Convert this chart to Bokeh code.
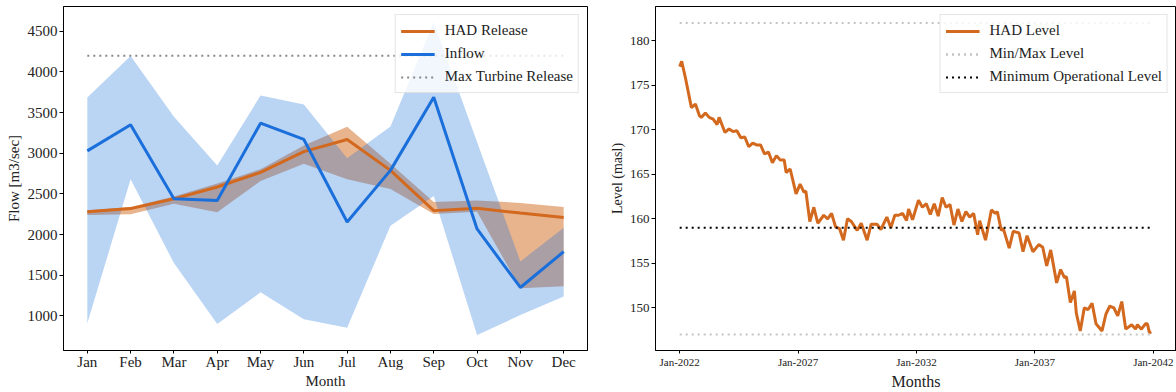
import pandas as pd
from datetime import datetime
from bokeh.plotting import figure
from bokeh.layouts import row
from bokeh.models import Range1d, FixedTicker, DatetimeTickFormatter
from bokeh.embed import file_html
from bokeh.resources import INLINE

FONT = "Liberation Serif"

# ---- monthly flow statistics ----
months = ["Jan", "Feb", "Mar", "Apr", "May", "Jun",
          "Jul", "Aug", "Sep", "Oct", "Nov", "Dec"]
had_release = [2280, 2320, 2440, 2585, 2765, 3020, 3170, 2790, 2295, 2325, 2265, 2210]
had_release_low = [2240, 2250, 2380, 2275, 2660, 2870, 2680, 2560, 2255, 2280, 1340, 1365]
had_release_high = [2300, 2340, 2470, 2630, 2805, 3095, 3325, 2870, 2400, 2420, 2390, 2340]
inflow = [3030, 3350, 2440, 2420, 3370, 3170, 2155, 2790, 3690, 2070, 1350, 1790]
inflow_low = [910, 2680, 1650, 900, 1290, 960, 855, 2110, 2475, 765, 1010, 1240]
inflow_high = [3685, 4195, 3450, 2850, 3710, 3600, 2940, 3330, 4610, 3140, 1670, 2085]
max_turbine_release = 4200
flow_ticks = [1000, 1500, 2000, 2500, 3000, 3500, 4000, 4500]

# ---- reservoir level trace (months after Jan-2022, masl) ----
level_month = [0, 1, 3, 6, 8, 10, 11, 13, 15, 17, 19, 20, 23, 25, 27, 29, 31, 33, 35, 37,
               39, 41, 43, 45, 47, 49, 51, 53, 54, 56, 59, 61, 63, 64, 66, 68, 70, 73, 75, 77,
               79, 81, 83, 85, 87, 90, 92, 95, 97, 100, 102, 105, 107, 109, 111, 113, 115, 116, 118, 121,
               123, 125, 127, 129, 131, 133, 135, 137, 139, 141, 143, 145, 147, 149, 151, 152, 155, 158, 160, 161,
               163, 164, 167, 169, 172, 174, 176, 179, 182, 184, 186, 188, 191, 193, 195, 196, 198, 200, 201, 203,
               205, 207, 209, 211, 214, 216, 218, 220, 222, 224, 226, 229, 231, 232, 234, 236, 237, 238, 239]
level_masl = [177.1, 177.7, 175.8, 172.5, 172.9, 171.6, 171.4, 171.9, 171.4, 171.2, 170.6, 171.4, 169.7, 170.1, 169.8, 169.9, 169.1, 169.2, 168.1, 168.5,
              168.3, 168.3, 167.3, 167.5, 166.3, 167.1, 166.6, 166.6, 165.2, 165.6, 162.8, 163.9, 163.0, 163.1, 159.7, 161.3, 159.5, 160.4, 160.0, 160.6,
              159.1, 158.9, 157.6, 160.0, 159.7, 158.7, 159.5, 157.6, 159.4, 159.4, 158.8, 160.2, 159.0, 160.4, 160.4, 160.6, 159.8, 161.1, 159.9, 162.1,
              161.3, 161.7, 160.5, 161.7, 160.3, 162.4, 161.3, 161.6, 159.3, 161.1, 159.7, 160.8, 160.2, 160.6, 158.2, 159.8, 157.6, 161.0, 160.6, 160.8,
              158.7, 158.9, 156.7, 158.6, 158.4, 156.3, 158.1, 156.3, 157.1, 156.8, 154.7, 156.5, 152.8, 154.3, 153.4, 153.5, 150.6, 151.9, 149.4, 147.4,
              150.0, 149.8, 150.5, 148.2, 147.4, 149.3, 150.2, 150.0, 149.1, 150.7, 147.6, 148.1, 147.6, 148.1, 147.6, 148.2, 148.2, 147.2, 147.3]
max_level = 182
min_level = 147
min_operational_level = 159
level_ticks = [150, 155, 160, 165, 170, 175, 180]
year_ticks = [2022, 2027, 2032, 2037, 2042]

ORANGE = "#d2691e"
BLUE = "#1a6fdb"


def style_axes(p, tick_size, label_size):
    for ax in (p.xaxis, p.yaxis):
        ax.major_label_text_font = FONT
        ax.axis_label_text_font = FONT
        ax.axis_label_text_font_style = "normal"
        ax.axis_label_text_font_size = label_size
        ax.axis_label_text_color = "#222222"
        ax.major_label_text_color = "#222222"
        ax.minor_tick_line_color = None
        ax.major_tick_in = 0
        ax.major_tick_out = 4
        ax.major_label_standoff = 2
        ax.axis_label_standoff = 3
        ax.axis_line_color = "black"
    p.xaxis.major_tick_out = 3
    p.xaxis.major_label_standoff = 0
    p.xaxis.axis_label_standoff = 0
    p.yaxis.major_label_text_font_size = tick_size
    p.xgrid.visible = False
    p.ygrid.visible = False
    p.outline_line_color = "black"
    p.outline_line_alpha = 1.0


def style_legend(p):
    lg = p.legend[0]
    lg.location = "top_right"
    lg.margin = 8
    lg.padding = 5
    lg.spacing = 2
    lg.label_height = 21
    lg.glyph_width = 34
    lg.label_standoff = 10
    lg.label_text_font = FONT
    lg.label_text_font_size = "15px"
    lg.label_text_color = "#222222"
    lg.background_fill_color = "white"
    lg.background_fill_alpha = 0.8
    lg.border_line_color = "#cccccc"


# ---- left: monthly flows ----
x = list(range(len(months)))
left = figure(width=606, height=392, output_backend="svg", toolbar_location=None,
              x_range=Range1d(-0.55, 11.55), y_range=Range1d(575, 4805),
              min_border_left=63, min_border_right=19, min_border_top=6, min_border_bottom=39)
left.varea(x=x, y1=had_release_low, y2=had_release_high, fill_color=ORANGE, fill_alpha=0.5)
left.varea(x=x, y1=inflow_low, y2=inflow_high, fill_color=BLUE, fill_alpha=0.3)
left.line(x, had_release, line_color=ORANGE, line_width=3, legend_label="HAD Release")
left.line(x, inflow, line_color=BLUE, line_width=3, legend_label="Inflow")
left.line([x[0], x[-1]], [max_turbine_release] * 2, line_color="#888888", line_width=2,
          line_dash="2 4", legend_label="Max Turbine Release")
style_axes(left, "15px", "15px")
left.xaxis.major_label_text_font_size = "15px"
left.xaxis.ticker = FixedTicker(ticks=x)
left.xaxis.major_label_overrides = {i: m for i, m in zip(x, months)}
left.yaxis.ticker = FixedTicker(ticks=flow_ticks)
left.xaxis.axis_label = "Month"
left.yaxis.axis_label = "Flow [m3/sec]"
style_legend(left)

# ---- right: reservoir level ----
start = pd.Timestamp("2022-01-01")
level_dates = [start + pd.DateOffset(months=m) for m in level_month]
line_span = [datetime(2022, 1, 1), datetime(2042, 1, 1)]
right = figure(width=570, height=392, output_backend="svg", toolbar_location=None,
               x_axis_type="datetime",
               x_range=Range1d(datetime(2020, 12, 24), datetime(2042, 12, 24)),
               y_range=Range1d(145.2, 183.86),
               min_border_left=47, min_border_right=0, min_border_top=6, min_border_bottom=39)
right.line(level_dates, level_masl, line_color=ORANGE, line_width=3, legend_label="HAD Level")
right.line(line_span, [max_level] * 2, line_color="#c4c4c4", line_width=2, line_dash="2 4",
           legend_label="Min/Max Level")
right.line(line_span, [min_level] * 2, line_color="#c4c4c4", line_width=2, line_dash="2 4",
           legend_label="Min/Max Level")
right.line(line_span, [min_operational_level] * 2, line_color="black", line_width=2,
           line_dash="2 4", legend_label="Minimum Operational Level")
style_axes(right, "13px", "14px")
right.xaxis.major_label_text_font_size = "11px"
right.xaxis.axis_label_text_font_size = "16px"
right.xaxis.major_label_standoff = 2
right.xaxis.axis_label_standoff = 2
right.yaxis.axis_label_standoff = 2
right.xaxis.ticker = FixedTicker(ticks=[datetime(y, 1, 1).timestamp() * 1000 for y in year_ticks])
right.xaxis.formatter = DatetimeTickFormatter(years="%b-%Y", months="%b-%Y", days="%b-%Y",
                                              hours="%b-%Y", minutes="%b-%Y", seconds="%b-%Y",
                                              milliseconds="%b-%Y", microseconds="%b-%Y",
                                              hourmin="%b-%Y", minsec="%b-%Y")
right.yaxis.ticker = FixedTicker(ticks=level_ticks)
right.xaxis.axis_label = "Months"
right.yaxis.axis_label = "Level (masl)"
style_legend(right)

layout = row(left, right)
open("out.html", "w").write(file_html(layout, INLINE))
